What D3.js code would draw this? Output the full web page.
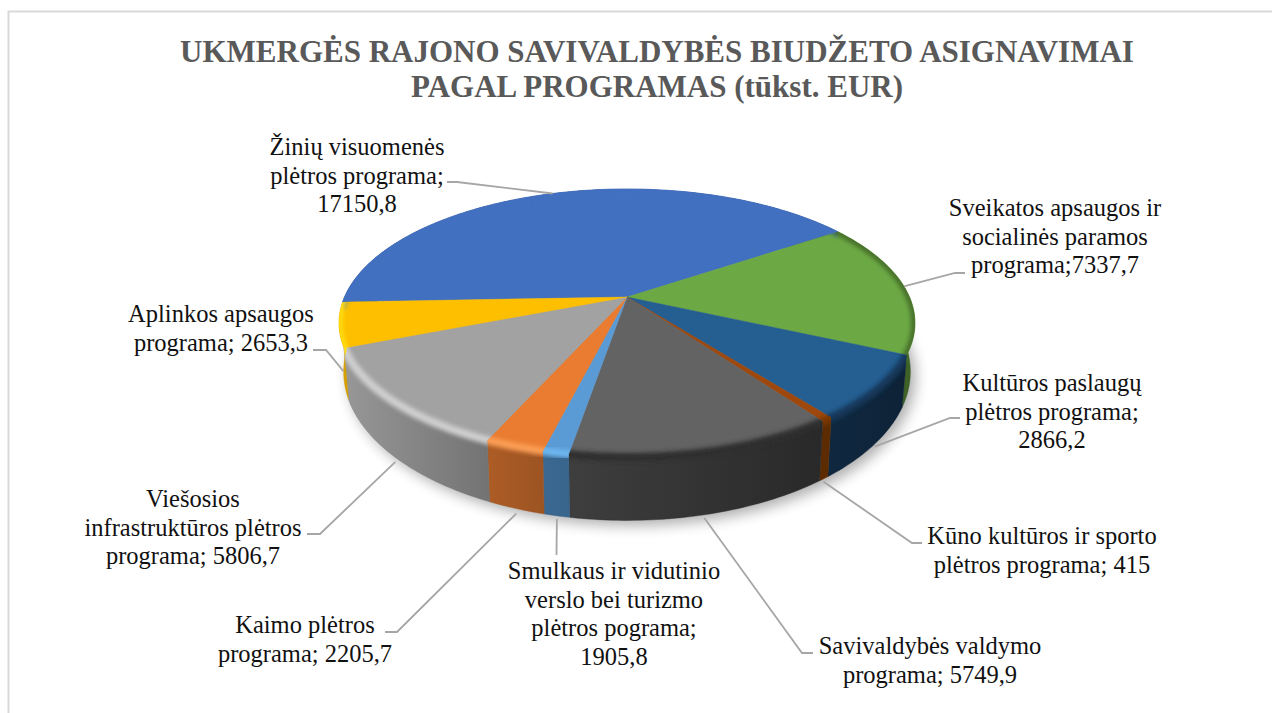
<!DOCTYPE html>
<html>
<head>
<meta charset="utf-8">
<script src="https://cdn.jsdelivr.net/npm/d3@7"></script>
<style>
  html, body { margin: 0; padding: 0; background: #fff; }
  svg { display: block; }
  text { font-family: "Liberation Serif", "Times New Roman", serif; }
</style>
</head>
<body>
<div id="chart"></div>
<script>
const titleLines = [
  "UKMERGĖS RAJONO SAVIVALDYBĖS BIUDŽETO ASIGNAVIMAI",
  "PAGAL PROGRAMAS (tūkst. EUR)"
];

// label text as printed, in pie order (clockwise from the blue slice)
const labelLines = [
  ["Žinių visuomenės", "plėtros programa;", "17150,8"],
  ["Sveikatos apsaugos ir", "socialinės paramos", "programa;7337,7"],
  ["Kultūros paslaugų", "plėtros programa;", "2866,2"],
  ["Kūno kultūros ir sporto", "plėtros programa; 415"],
  ["Savivaldybės valdymo", "programa; 5749,9"],
  ["Smulkaus ir vidutinio", "verslo bei turizmo", "plėtros pograma;", "1905,8"],
  ["Kaimo plėtros", "programa; 2205,7"],
  ["Viešosios", "infrastruktūros plėtros", "programa; 5806,7"],
  ["Aplinkos apsaugos", "programa; 2653,3"]
];

// slice sweep in degrees as drawn in the picture
// (the small slices are drawn thinner than their printed values)
const drawnSweep = [148.1, 58.5, 27.9, 2, 45.3, 4.4, 10, 44.5, 19.3];

const topColors = ["#4270c0", "#6ca945", "#255e91", "#9e480e", "#636363", "#5b9bd5", "#e97c30", "#a2a2a2", "#fdbf00"];
const bevelColors = ["#4270c0", "#47702c", "#14375a", "#7a3800", "#2e2e2e", "#6db6f0", "#fb9d55", "#cfcfcf", "#ffdc10"];
const wallLeft = ["#2f4f88", "#4a7330", "#0f2840", "#5c2b00", "#3e3e3e", "#3a6891", "#ad5c25", "#979797", "#e0aa00"];
const wallRight = ["#2f4f88", "#3c5f25", "#0e2236", "#5c2b00", "#292929", "#38658c", "#9c5422", "#737373", "#d49e00"];

// label anchors: centre x and first baseline
const labelX = [357, 1055, 1052, 1042, 930, 614, 305, 193, 221];
const labelY = [155, 216, 391, 544, 654, 579, 633, 507, 322];
const lineGap = 28.6;

// leader: level between top rim (0) and bottom rim (1), then elbow and end
const leaderLevel = [0, 0, 1.05, 1.05, 1.05, 1.05, 1.08, 1.08, 0.95];
const leaderElbow = [[457, 182], [955, 273], [950, 418], [912, 543], [802, 653], [556.5, 555], [397, 632], [320, 534], [326, 350]];
const leaderEnd = [[447, 182], [965, 273], [960, 418], [922, 543], [813, 653], [556.5, 555], [385, 632], [307, 534], [313, 350]];

const width = 1272, height = 713;
const svg = d3.select("#chart").append("svg").attr("width", width).attr("height", height);
const defs = svg.append("defs");

[["blurShadow", 7], ["blurBevel", 2.2]].forEach(([id, dev]) => {
  defs.append("filter").attr("id", id)
    .attr("x", "-20%").attr("y", "-20%").attr("width", "140%").attr("height", "140%")
    .append("feGaussianBlur").attr("stdDeviation", dev);
});

// frame, open on the right and at the bottom
svg.append("path")
  .attr("d", "M8.5,713V11.5H1272")
  .attr("fill", "none").attr("stroke", "#d9d9d9").attr("stroke-width", 2);

svg.selectAll("text.title").data(titleLines).enter().append("text")
  .attr("class", "title")
  .attr("x", 657)
  .attr("y", (d, i) => 62 + i * 34.5)
  .attr("text-anchor", "middle")
  .attr("font-size", 31)
  .attr("font-weight", "bold")
  .attr("fill", "#595959")
  .text(d => d);

// tilted disc: projective map of the unit circle
const tilt = 0.194;
const discX = d3.scaleLinear().domain([-1, 1]).range([627 - 282.5, 627 + 282.5]);
const topY = d3.scaleLinear().domain([-1, 1]).range([297 - 129, 297 + 129]);
const bottomX = d3.scaleLinear().domain([-1, 1]).range([627 - 278, 627 + 278]);
const bottomY = d3.scaleLinear().domain([-1, 1]).range([343 - 143, 343 + 143]);

function project(angle, r, xs, ys) {
  const x = r * Math.sin(angle), y = -r * Math.cos(angle);
  const w = 1 - tilt * y;
  return [xs(x / w), ys(y / w)];
}
const onTop = a => project(a, 1, discX, topY);
const onBottom = a => project(a, 1, bottomX, bottomY);

const pie = d3.pie().sort(null)
  .startAngle(-92.2 * Math.PI / 180)
  .endAngle((360 - 92.2) * Math.PI / 180);
const slices = pie(drawnSweep);

const line = d3.line();
const arcAngles = (a0, a1) => {
  const n = Math.max(2, Math.ceil((a1 - a0) / (Math.PI / 180)));
  return d3.range(n + 1).map(i => a0 + (a1 - a0) * i / n);
};

const topPath = d => line([[627, 297]].concat(arcAngles(d.startAngle, d.endAngle).map(onTop))) + "Z";
const wallPath = d => {
  const as = arcAngles(d.startAngle, d.endAngle);
  return line(as.map(onTop).concat(as.slice().reverse().map(onBottom))) + "Z";
};

// soft shadow under the disc
svg.append("path")
  .attr("d", line(arcAngles(0, 2 * Math.PI).map(onBottom)) + "Z")
  .attr("transform", "translate(5,5)")
  .attr("fill", "#000").attr("opacity", 0.32)
  .attr("filter", "url(#blurShadow)");

slices.forEach((d, i) => {
  const pts = arcAngles(d.startAngle, d.endAngle).map(onTop);
  const grad = defs.append("linearGradient").attr("id", "wall" + i)
    .attr("gradientUnits", "userSpaceOnUse")
    .attr("x1", d3.min(pts, p => p[0])).attr("x2", d3.max(pts, p => p[0]) + 1)
    .attr("y1", 0).attr("y2", 0);
  grad.append("stop").attr("offset", 0).attr("stop-color", wallLeft[i]);
  grad.append("stop").attr("offset", 1).attr("stop-color", wallRight[i]);
  const clip = defs.append("clipPath").attr("id", "slice" + i);
  clip.append("path").attr("d", topPath(d));
  clip.append("path").attr("d", wallPath(d));
});

svg.append("g").selectAll("path").data(slices).enter().append("path")
  .attr("d", wallPath)
  .attr("fill", (d, i) => "url(#wall" + i + ")")
  .attr("stroke", (d, i) => wallRight[i]).attr("stroke-width", 0.4);

svg.append("g").selectAll("path").data(slices).enter().append("path")
  .attr("d", topPath)
  .attr("fill", (d, i) => topColors[i])
  .attr("stroke", (d, i) => topColors[i]).attr("stroke-width", 0.4);

// rounded rim, clipped to each slice
svg.append("g").selectAll("g").data(slices).enter().append("g")
  .attr("clip-path", (d, i) => "url(#slice" + i + ")")
  .append("path")
  .attr("d", d => line(arcAngles(d.startAngle - 0.05, d.endAngle + 0.05).map(onTop)))
  .attr("fill", "none")
  .attr("stroke", (d, i) => bevelColors[i])
  .attr("stroke-width", 8)
  .attr("filter", "url(#blurBevel)");

// leaders start at each slice's middle angle
const leaderStart = slices.map((d, i) => {
  const mid = (d.startAngle + d.endAngle) / 2;
  const t = onTop(mid), b = onBottom(mid);
  return [t[0] + (b[0] - t[0]) * leaderLevel[i], t[1] + (b[1] - t[1]) * leaderLevel[i]];
});

svg.append("g").selectAll("path").data(slices).enter().append("path")
  .attr("d", (d, i) => line([leaderStart[i], leaderElbow[i], leaderEnd[i]]))
  .attr("fill", "none").attr("stroke", "#a6a6a6").attr("stroke-width", 1.8);

const labels = svg.append("g").selectAll("text").data(labelLines).enter().append("text")
  .attr("text-anchor", "middle")
  .attr("font-size", 24.5)
  .attr("fill", "#111");

labels.selectAll("tspan").data((d, i) => d.map(t => ({ t, i }))).enter().append("tspan")
  .attr("x", d => labelX[d.i])
  .attr("y", (d, j) => labelY[d.i] + j * lineGap)
  .text(d => d.t);
</script>
</body>
</html>
